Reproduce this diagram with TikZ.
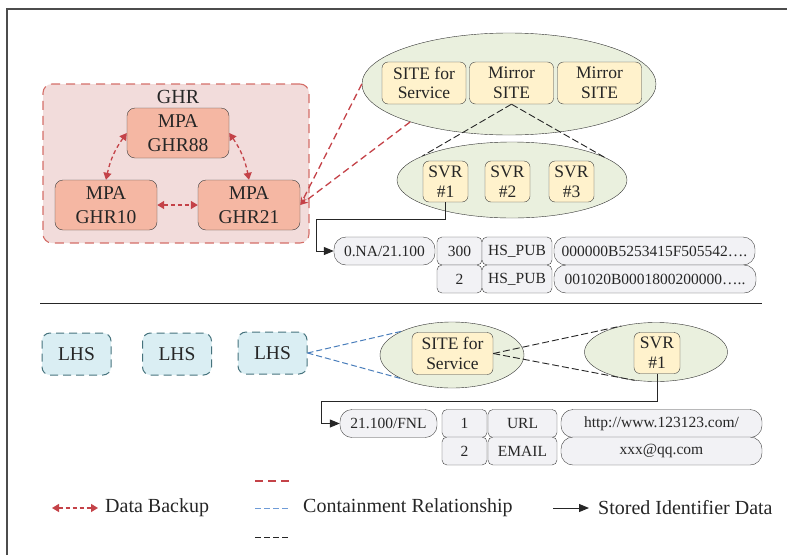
\documentclass[tikz,border=0pt]{standalone}
\usepackage{fontspec}
\setmainfont{Liberation Serif}
\usepackage{xcolor}
\usetikzlibrary{arrows.meta, positioning, shapes.geometric}

\definecolor{backupred}{RGB}{196,66,72}
\definecolor{ghredge}{RGB}{212,110,104}
\definecolor{ghrfill}{RGB}{242,220,219}
\definecolor{mpafill}{RGB}{245,183,163}
\definecolor{regionfill}{RGB}{234,240,222}
\definecolor{sitefill}{RGB}{255,242,204}
\definecolor{cellfill}{RGB}{242,242,245}
\definecolor{lhsfill}{RGB}{218,238,243}
\definecolor{lhsedge}{RGB}{70,115,125}
\definecolor{containblue}{RGB}{74,126,187}
\definecolor{keyblue}{RGB}{110,155,215}

\begin{document}
\begin{tikzpicture}[
  x=1pt, y=-1pt,
  every node/.style={font=\fontsize{20}{22}\selectfont, text=black!85},
  ghrbox/.style={draw=ghredge, fill=ghrfill, dash pattern=on 9pt off 6pt, line width=1.1pt, rounded corners=9pt, minimum width=266pt, minimum height=159pt},
  mpa/.style={draw=black!75, fill=mpafill, rounded corners=8pt, minimum width=102pt, minimum height=50pt, inner sep=0pt, align=center, font=\fontsize{19.5}{24}\selectfont},
  region/.style={ellipse, draw=black!80, fill=regionfill, inner sep=0pt},
  site/.style={draw=black!75, fill=sitefill, rounded corners=6pt, minimum width=84pt, minimum height=42pt, inner sep=0pt, align=center, font=\fontsize{17.5}{19.5}\selectfont},
  svr/.style={site, minimum width=45pt, minimum height=41pt, font=\fontsize{17.5}{20}\selectfont},
  cell/.style={draw=black!75, fill=cellfill, rounded corners=5pt, minimum height=28pt, inner sep=0pt, font=\fontsize{15.5}{18}\selectfont},
  pill/.style={cell, rounded corners=12pt},
  lhs/.style={draw=lhsedge, fill=lhsfill, dash pattern=on 8pt off 5pt, line width=1pt, rounded corners=8pt, minimum width=69pt, minimum height=42pt, inner sep=0pt, font=\fontsize{19.5}{22}\selectfont},
  backup/.style={{Triangle[length=7pt,width=8pt]}-{Triangle[length=7pt,width=8pt]}, draw=backupred, dash pattern=on 4pt off 3pt, line width=1.3pt},
  redlink/.style={draw=backupred, dash pattern=on 7pt off 4pt, line width=1.3pt},
  bluelink/.style={draw=containblue, dash pattern=on 6pt off 3pt, line width=1pt},
  blacklink/.style={draw=black!85, dash pattern=on 7pt off 3pt, line width=0.9pt},
  stored/.style={-{Triangle[length=10pt,width=8pt]}, draw=black!85, line width=1pt}
]
  \useasboundingbox (0,0) rectangle (787,555);
  % frame and separator
  \draw[black!70, line width=1.5pt] (7,555) -- (7,9) -- (787,9);
  \draw[black!85, line width=0.8pt] (40,303) -- (762,303);

  % GHR group
  \node[ghrbox] (ghr) at (176,163.5) {};
  \node (ghrlabel) at (178,97) {GHR};
  \node[mpa] (g88) at (178,133) {MPA\\GHR88};
  \node[mpa] (g10) at (106,205) {MPA\\GHR10};
  \node[mpa] (g21) at (249,205) {MPA\\GHR21};
  \draw[backup] (g88.west) to[bend right=12] (g10.north);
  \draw[backup] (g88.east) to[bend left=12] (g21.north);
  \draw[backup] (g10.east) -- (g21.west);

  % sites and servers
  \node[region, minimum width=294pt, minimum height=102pt] (e1) at (509,84) {};
  \node[site] (s0) at (424,83) {SITE for\\Service};
  \node[site] (m1) at (511.5,83) {Mirror\\SITE};
  \node[site] (m2) at (599.5,83) {Mirror\\SITE};
  \node[region, minimum width=230pt, minimum height=76pt] (e2) at (512,180) {};
  \node[svr] (v1) at (445.5,181.5) {SVR\\\#1};
  \node[svr] (v2) at (507.5,181.5) {SVR\\\#2};
  \node[svr] (v3) at (571.5,181.5) {SVR\\\#3};
  \draw[redlink, -{Stealth[length=8pt,width=6pt]}] (e1.west) -- (g21.east);
  \draw[redlink, -{Stealth[length=8pt,width=6pt]}] (e1.201) -- (g21.east);
  \draw[blacklink] (m1.south) -- (e2.165);
  \draw[blacklink] (m1.south) -- (e2.14);

  % identifier data (GHR)
  \node[pill] (r1a) at (384.5,251) [minimum width=101pt] {0.NA/21.100};
  \node[cell] (r1b) at (459.5,251) [minimum width=45pt] {300};
  \node[cell] (r1c) at (517,251) [minimum width=70pt] {HS\_PUB};
  \node[pill] (r1d) at (654.5,251) [minimum width=201pt] {000000B5253415F505542….};
  \node[cell] (r1e) at (459.5,279) [minimum width=45pt] {2};
  \node[cell] (r1f) at (517,279) [minimum width=70pt] {HS\_PUB};
  \node[pill] (r1g) at (655,279) [minimum width=202pt] {001020B0001800200000…..};
  \draw[stored] (v1.south) -- ++(0,17) -| ([xshift=-17pt]r1a.west) -- (r1a.west);

  % LHS part
  \node[lhs] (l1) at (76.5,354) {LHS};
  \node[lhs] (l2) at (177,354) {LHS};
  \node[lhs] (l3) at (272.5,353) {LHS};
  \node[region, minimum width=144pt, minimum height=66pt] (e3) at (452,355) {};
  \node[site, minimum width=81pt] (bs) at (452.5,353.5) {SITE for\\Service};
  \node[region, minimum width=143pt, minimum height=59pt] (e4) at (656,352) {};
  \node[svr, minimum width=46pt] (sv) at (657,353) {SVR\\\#1};
  \draw[bluelink] (l3.east) -- (e3.155);
  \draw[bluelink] (l3.east) -- (e3.205);
  \draw[blacklink] (bs.east) -- (e4.143);
  \draw[blacklink] (bs.east) -- (e4.233);

  % identifier data (LHS)
  \node[pill] (r2a) at (388.5,423.5) [minimum width=97pt] {21.100/FNL};
  \node[cell] (r2b) at (464.5,423.5) [minimum width=45pt] {1};
  \node[cell] (r2c) at (522.5,423.5) [minimum width=69pt] {URL};
  \node[pill] (r2d) at (661.5,423.5) [minimum width=201pt] {http://www.123123.com/};
  \node[cell] (r2e) at (464.5,451) [minimum width=45pt] {2};
  \node[cell] (r2f) at (522.5,451) [minimum width=69pt] {EMAIL};
  \node[pill] (r2g) at (661.5,451) [minimum width=201pt] {xxx@qq.com};
  \draw[stored] (sv.south) -- ++(0,28) -| ([xshift=-18pt]r2a.west) -- (r2a.west);

  % legend
  \node[anchor=west, inner sep=2pt] (kbackup) at (103,508) {Data Backup};
  \coordinate (kb) at (52,508);
  \draw[backup] (kb) -- ([xshift=-5pt]kbackup.west);
  \node[anchor=west, inner sep=2pt] (kcontain) at (301,508) {Containment Relationship};
  \coordinate (kr1) at (255,481);
  \coordinate (kr2) at (290,481);
  \coordinate (kl1) at (255,508);
  \coordinate (kl2) at (290,508);
  \coordinate (kk1) at (255,537);
  \coordinate (kk2) at (290,537);
  \draw[redlink, dash pattern=on 8pt off 5pt] (kr1) -- (kr2);
  \draw[draw=keyblue, dash pattern=on 6pt off 3pt, line width=1pt] (kl1) -- (kl2);
  \draw[blacklink, dash pattern=on 6pt off 3pt] (kk1) -- (kk2);
  \node[anchor=west, inner sep=2pt] (kstored) at (596,508) {Stored Identifier Data};
  \coordinate (ks) at (553,508);
  \draw[stored] (ks) -- ([xshift=-7pt]kstored.west);
\end{tikzpicture}
\end{document}
